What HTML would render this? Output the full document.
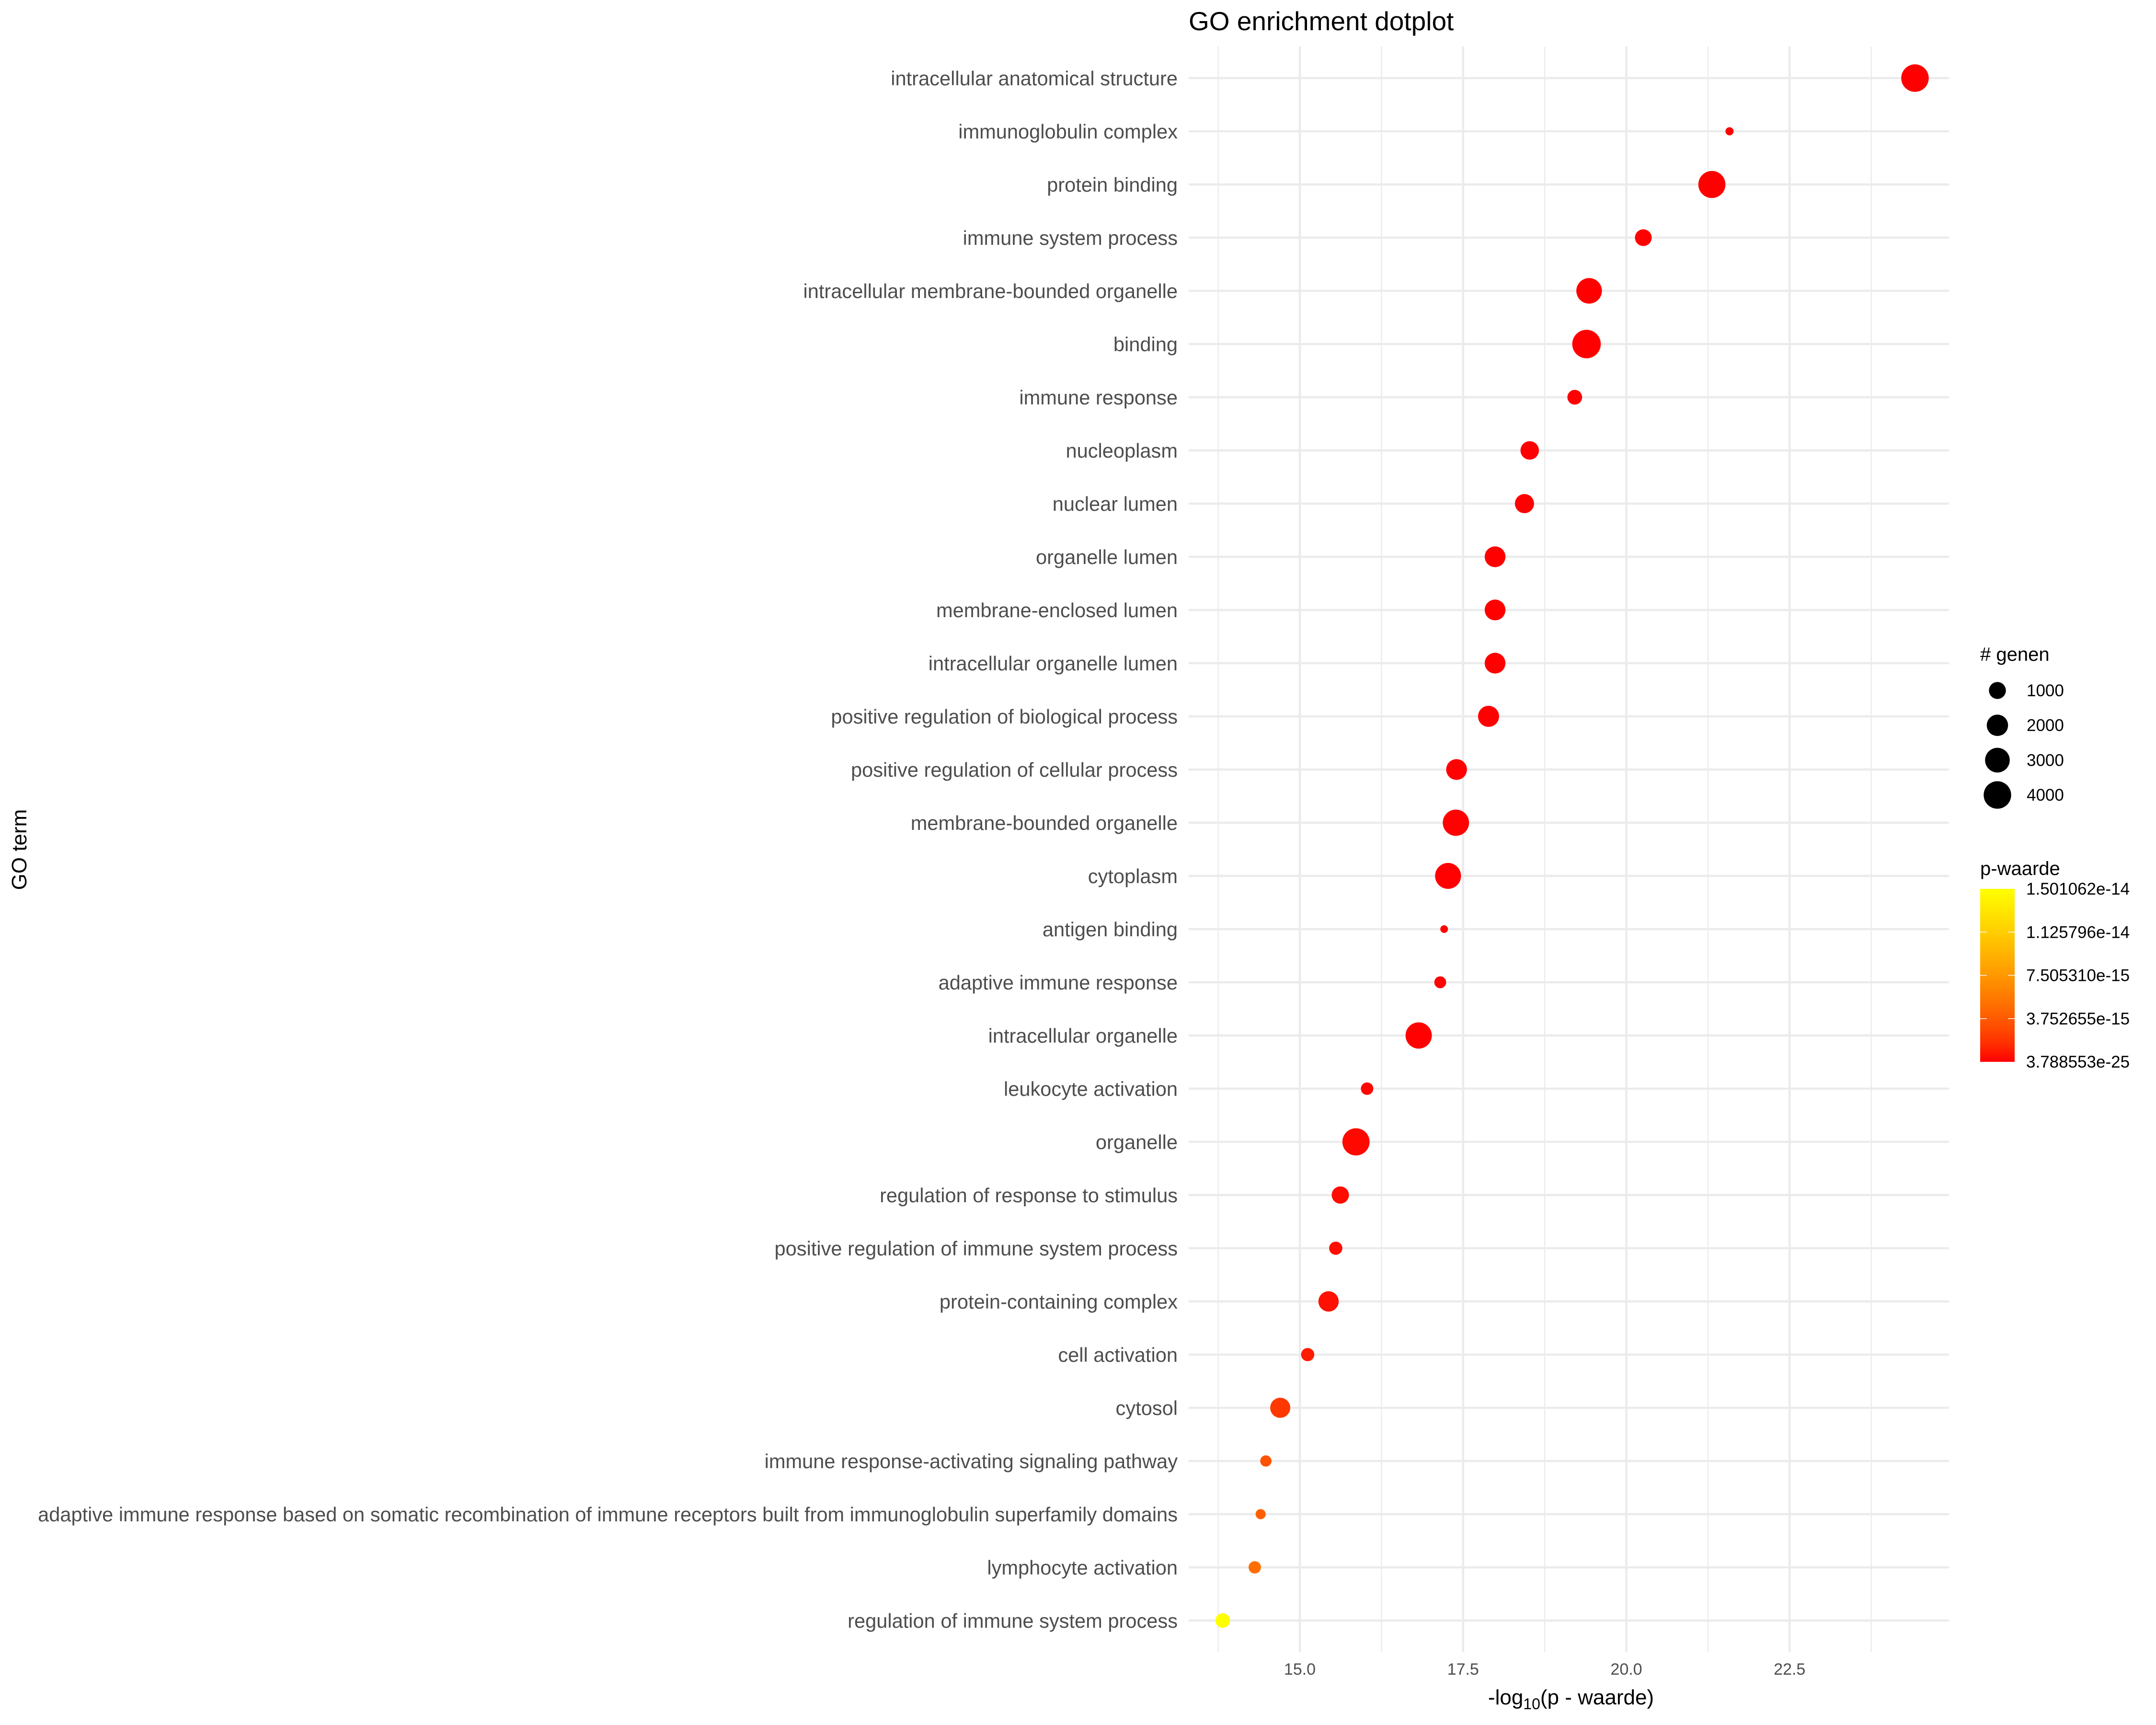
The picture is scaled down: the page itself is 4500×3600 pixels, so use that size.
<!DOCTYPE html>
<html><head><meta charset="utf-8"><style>
html,body{margin:0;padding:0;background:#fff;}
svg{display:block;font-family:"Liberation Sans",Arial,sans-serif;}
</style></head><body>
<svg id="chart" width="4500" height="3600" viewBox="0 0 4500 3600" xmlns="http://www.w3.org/2000/svg">
<rect width="4500" height="3600" fill="#fff"/>
<text x="2481" y="63" font-size="55" fill="#000">GO enrichment dotplot</text>
<g id="grid"></g>
<g id="ylabels"></g>
<g id="dots"></g>
<g id="xticks"></g>
<text x="3279" y="3557" font-size="44" text-anchor="middle" fill="#000">-log<tspan font-size="32" dy="10">10</tspan><tspan dy="-10">(p - waarde)</tspan></text>
<text transform="translate(55,1773) rotate(-90)" font-size="44" text-anchor="middle" fill="#000">GO term</text>
<g id="legend"></g>
</svg>
<script>
const terms = ["intracellular anatomical structure","immunoglobulin complex","protein binding","immune system process","intracellular membrane-bounded organelle","binding","immune response","nucleoplasm","nuclear lumen","organelle lumen","membrane-enclosed lumen","intracellular organelle lumen","positive regulation of biological process","positive regulation of cellular process","membrane-bounded organelle","cytoplasm","antigen binding","adaptive immune response","intracellular organelle","leukocyte activation","organelle","regulation of response to stimulus","positive regulation of immune system process","protein-containing complex","cell activation","cytosol","immune response-activating signaling pathway","adaptive immune response based on somatic recombination of immune receptors built from immunoglobulin superfamily domains","lymphocyte activation","regulation of immune system process"];
const negLogP = [24.42,21.58,21.31,20.26,19.43,19.39,19.21,18.52,18.44,17.99,17.99,17.99,17.89,17.40,17.39,17.27,17.21,17.15,16.82,16.03,15.86,15.62,15.55,15.44,15.12,14.70,14.48,14.40,14.31,13.82];
const geneCounts = [4000,27,3850,963,3300,4400,625,1310,1460,1860,1860,1860,1930,1860,3540,3430,14,268,3540,328,3890,1055,416,1735,416,1690,215,126,318,597];
const xTicks = [15.0,17.5,20.0,22.5];
const xMinor = [13.75,16.25,18.75,21.25,23.75];
const sizeBreaks = [1000,2000,3000,4000];
const colorTickLabels = ["1.501062e-14","1.125796e-14","7.505310e-15","3.752655e-15","3.788553e-25"];
const pMax = 1.501062e-14;

const NS="http://www.w3.org/2000/svg";
function mk(tag, attrs, parent){const e=document.createElementNS(NS,tag);for(const k in attrs)e.setAttribute(k,attrs[k]);parent.appendChild(e);return e;}
const PL=2481, PR=4068, PT=97, PB=3448;
function xScale(v){return 2713+(v-15)*136.3;}
function yScale(i){return 163+i*111;}
function rScale(n){return 6.7+0.348*Math.sqrt(Math.max(n,0));}
function colorFor(p){let t=Math.min(Math.max(p/pMax,0),1);const g=Math.round(255*Math.pow(t,0.75));return "rgb(255,"+g+",0)";}

const grid=document.getElementById('grid');
xMinor.forEach(v=>{const l=mk('line',{x1:xScale(v),x2:xScale(v),y1:PT,y2:PB,stroke:'#ebebeb','stroke-width':2.3},grid);

});
xTicks.forEach(v=>{const l=mk('line',{x1:xScale(v),x2:xScale(v),y1:PT,y2:PB,stroke:'#ebebeb','stroke-width':4.5},grid);

});
terms.forEach((t,i)=>{const l=mk('line',{x1:PL,x2:PR,y1:yScale(i),y2:yScale(i),stroke:'#ebebeb','stroke-width':4.5},grid);

});

const yl=document.getElementById('ylabels');
terms.forEach((t,i)=>{const e=mk('text',{x:2458,y:yScale(i)+15,'font-size':41.6,'text-anchor':'end',fill:'#4d4d4d'},yl);e.textContent=t;

});

const xt=document.getElementById('xticks');
xTicks.forEach(v=>{const e=mk('text',{x:xScale(v),y:3495,'font-size':34,'text-anchor':'middle',fill:'#4d4d4d'},xt);e.textContent=v.toFixed(1);

});

const dots=document.getElementById('dots');
negLogP.forEach((v,i)=>{const c=mk('circle',{cx:xScale(v),cy:yScale(i),r:rScale(geneCounts[i]),fill:colorFor(Math.pow(10,-v))},dots);

});

const lg=document.getElementById('legend');
let tt=mk('text',{x:4133,y:1379,'font-size':40,fill:'#000'},lg);tt.textContent='# genen';


sizeBreaks.forEach((b,k)=>{const cy=1441+k*72.7;
const c=mk('circle',{cx:4169,cy:cy,r:rScale(b),fill:'#000'},lg);


const e=mk('text',{x:4230,y:cy+12,'font-size':35,fill:'#000'},lg);e.textContent=String(b);

});
let ct=mk('text',{x:4133,y:1826,'font-size':40,fill:'#000'},lg);ct.textContent='p-waarde';


const defs=mk('defs',{},lg);const gr=mk('linearGradient',{id:'cb',x1:0,y1:1,x2:0,y2:0},defs);
for(let s=0;s<=10;s++){mk('stop',{offset:s/10,'stop-color':colorFor(s/10*pMax)},gr);}
const bar=mk('rect',{x:4133,y:1855,width:72,height:361,fill:'url(#cb)'},lg);


colorTickLabels.forEach((lab,k)=>{const y=1855+k*90.25;
if(k>0&&k<4){mk('line',{x1:4133,x2:4147,y1:y,y2:y,stroke:'#fff','stroke-width':1.5},lg);mk('line',{x1:4191,x2:4205,y1:y,y2:y,stroke:'#fff','stroke-width':1.5},lg);}
const e=mk('text',{x:4229,y:y+12,'font-size':35,fill:'#000'},lg);e.textContent=lab;

});
</script>
</body></html>
